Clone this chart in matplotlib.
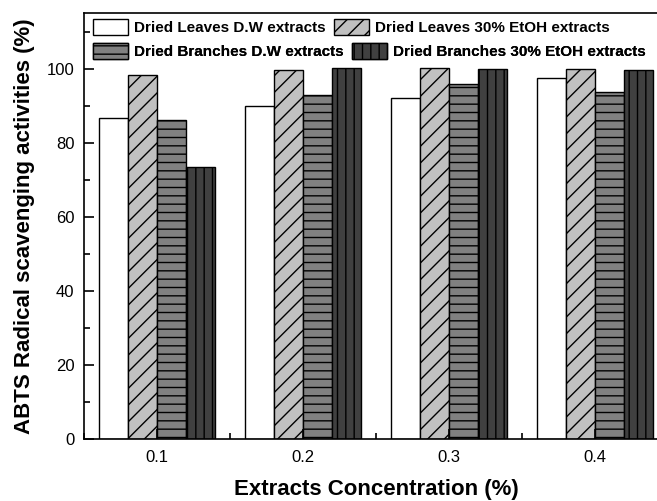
import numpy as np
import matplotlib
matplotlib.use("Agg")
import matplotlib.pyplot as plt
from matplotlib.ticker import MultipleLocator

plt.rcParams["font.family"] = ["Liberation Sans", "DejaVu Sans"]
plt.rcParams["hatch.linewidth"] = 1.0

# =========================
# DATA
# =========================
conc = [0.1, 0.2, 0.3, 0.4]
leaves_dw = [86.6, 90.0, 92.0, 97.5]
leaves_etoh = [98.3, 99.6, 100.2, 99.9]
branches_dw = [86.0, 92.9, 95.9, 93.8]
branches_etoh = [73.3, 100.1, 99.9, 99.6]

series = [
    ("Dried Leaves D.W extracts", leaves_dw, "white", ""),
    ("Dried Leaves 30% EtOH extracts", leaves_etoh, "#c0c0c0", "//"),
    ("Dried Branches D.W extracts", branches_dw, "#808080", "--"),
    ("Dried Branches 30% EtOH extracts", branches_etoh, "#404040", "||"),
]

fig = plt.figure(figsize=(6.57, 5.01), dpi=100)
ax = fig.add_axes([84 / 657, 62 / 501, 584 / 657, 426 / 501])

w = 0.02
offs = [-1.5, -0.5, 0.5, 1.5]
x = np.array(conc)
bars = []
for (lab, vals, col, hat), o in zip(series, offs):
    b = ax.bar(x + o * w, vals, width=w, color=col, edgecolor="black",
               linewidth=1.0, hatch=hat, label=lab)
    bars.append(b)

ax.set_xlim(0.05, 0.45)
ax.set_ylim(0, 115)
ax.set_xticks(conc)
ax.set_xticklabels(["0.1", "0.2", "0.3", "0.4"])
ax.xaxis.set_minor_locator(MultipleLocator(0.05))
ax.yaxis.set_minor_locator(MultipleLocator(10))
ax.set_yticks([0, 20, 40, 60, 80, 100])
ax.tick_params(which="both", direction="in", labelsize=12, width=1.2)
ax.tick_params(which="major", length=7)
ax.tick_params(which="minor", length=4)
ax.tick_params(axis="x", pad=8)
ax.tick_params(axis="y", pad=7)
for s in ax.spines.values():
    s.set_linewidth(1.2)

ax.set_xlabel("Extracts Concentration (%)", fontsize=16, fontweight="bold", labelpad=10)
ax.set_ylabel("ABTS Radical scavenging activities (%)", fontsize=16, fontweight="bold", labelpad=8)

# =========================
# LEYENDA: una fila por legend (estilo Origin)
# =========================
labels = [s[0] for s in series]
x0 = (93 - 84) / 584
filas = [([0, 1], (439 - 27) / 426), ([2, 3], (439 - 51) / 426)]
for idx, yy in filas:
    leg = ax.legend([bars[i] for i in idx], [labels[i] for i in idx],
                    ncol=2, loc="center left", bbox_to_anchor=(x0, yy), frameon=False,
                    prop={"weight": "bold", "size": 11}, handlelength=2.3, handleheight=1.2,
                    columnspacing=0.5, handletextpad=0.4, borderpad=0, borderaxespad=0)
    ax.add_artist(leg)

plt.savefig("out.png", dpi=100)
